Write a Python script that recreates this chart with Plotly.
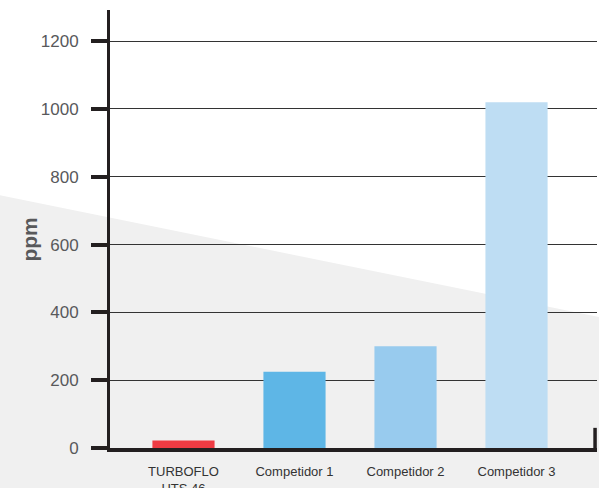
import plotly.graph_objects as go

categories = ["TURBOFLO<br>HTS 46", "Competidor 1", "Competidor 2", "Competidor 3"]
values = [22, 225, 300, 1020]
colors = ["#EE3B43", "#5EB6E6", "#98CBEE", "#BEDDF3"]
y_ticks = [0, 200, 400, 600, 800, 1000, 1200]

FONT = "Liberation Sans, Arial, Helvetica, sans-serif"
AX = "#231F20"

fig = go.Figure()
fig.add_trace(go.Bar(
    x=list(range(len(categories))), y=values,
    marker=dict(color=colors, line=dict(width=0)),
    width=0.56, hoverinfo="skip",
))

fig.update_layout(
    width=599, height=488,
    margin=dict(l=110, r=2, t=10, b=40),
    paper_bgcolor="white", plot_bgcolor="rgba(0,0,0,0)",
    showlegend=False,
    font=dict(family=FONT, color="#58595B"),
    xaxis=dict(
        range=[-0.662, 3.725], tickmode="array",
        tickvals=list(range(len(categories))), ticktext=categories,
        showgrid=False, zeroline=False, automargin=False,
        showline=True, linewidth=4, linecolor=AX,
        ticks="", tickfont=dict(size=13, color="#333333"),
        ticklabelstandoff=8,
    ),
    yaxis=dict(
        range=[0, 1292], tickmode="array", tickvals=y_ticks,
        showgrid=True, gridcolor="#333333", gridwidth=1,
        zeroline=False, automargin=False,
        showline=True, linewidth=3, linecolor=AX,
        ticks="outside", ticklen=16, tickwidth=4, tickcolor=AX,
        tickfont=dict(size=17, color="#58595B"),
        ticklabelstandoff=9,
    ),
    shapes=[
        dict(type="path", xref="paper", yref="paper", layer="below",
             path="M -0.23 0.578 L 1.01 0.298 L 1.01 -0.1 L -0.23 -0.1 Z",
             fillcolor="#F0F0F0", line=dict(width=0)),
        dict(type="line", xref="paper", yref="paper", x0=0.996, x1=0.996,
             y0=0, y1=0.046, line=dict(color=AX, width=3.5)),
    ],
    annotations=[
        dict(text="<b>ppm</b>", xref="paper", yref="paper",
             x=-0.165, y=0.475, xanchor="center", yanchor="middle",
             textangle=-90, showarrow=False,
             font=dict(size=21, color="#58595B", family=FONT)),
    ],
)

fig.write_html(
    "out.html",
    config={"displayModeBar": False},
    post_script="document.body.style.margin='0';document.body.style.overflow='hidden';",
)
